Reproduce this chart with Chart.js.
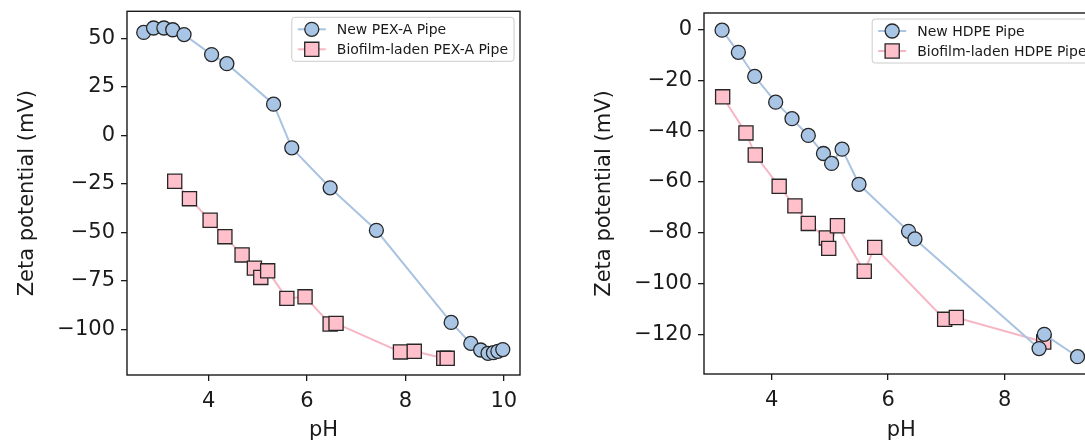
<!DOCTYPE html>
<html>
<head>
<meta charset="utf-8">
<script src="https://cdn.jsdelivr.net/npm/chart.js@4/dist/chart.umd.min.js"></script>
<style>
  html, body { margin: 0; padding: 0; background: #fff; overflow: hidden; width: 1085px; height: 443px; }
  canvas { position: absolute; top: 0; }
  #left { left: 0; }
  #right { left: 580px; }
</style>
</head>
<body>
<canvas id="left" width="560" height="443"></canvas>
<canvas id="right" width="540" height="443"></canvas>
<script>
// left panel: PEX-A
const pexNewPH = [2.68, 2.88, 3.09, 3.27, 3.50, 4.06, 4.37, 5.32, 5.69, 6.47, 7.41, 8.93, 9.33, 9.53, 9.68, 9.79, 9.88, 9.98];
const pexNewZeta = [53.1, 55.4, 55.4, 54.5, 52.0, 41.7, 37.0, 16.1, -6.4, -27.0, -48.9, -96.4, -107.2, -110.6, -112.3, -112.0, -111.3, -110.4];
const pexBioPH = [3.31, 3.61, 4.03, 4.33, 4.68, 4.93, 5.06, 5.20, 5.59, 5.96, 6.47, 6.59, 7.90, 8.18, 8.78, 8.85];
const pexBioZeta = [-23.6, -32.6, -43.7, -52.2, -61.6, -68.4, -73.2, -69.8, -84.0, -83.2, -97.2, -96.9, -111.6, -111.3, -114.9, -114.9];

// right panel: HDPE
const hdpeNewPH = [3.15, 3.43, 3.71, 4.07, 4.35, 4.63, 4.89, 5.03, 5.21, 5.50, 6.35, 6.46, 8.59, 8.68, 9.25];
const hdpeNewZeta = [-0.3, -9.0, -18.5, -28.6, -35.1, -41.7, -48.8, -52.7, -47.1, -60.9, -79.4, -82.4, -125.5, -119.9, -128.7];
const hdpeBioPH = [3.16, 3.56, 3.72, 4.13, 4.40, 4.63, 4.94, 4.98, 5.13, 5.59, 5.77, 6.97, 7.17, 8.67];
const hdpeBioZeta = [-26.5, -40.7, -49.4, -61.7, -69.4, -76.3, -82.0, -86.1, -77.2, -95.1, -85.7, -114.0, -113.3, -122.9];

const pexXTicks = [4, 6, 8, 10];
const pexYTicks = [50, 25, 0, -25, -50, -75, -100];
const hdpeXTicks = [4, 6, 8];
const hdpeYTicks = [0, -20, -40, -60, -80, -100, -120];

const FONT = '"DejaVu Sans", sans-serif';
const INK = "#1a1a1a";

const toPoints = (xs, ys) => xs.map((x, i) => ({ x: x, y: ys[i] }));
const fmt = v => (v < 0 ? "\u2212" + Math.abs(v) : String(v));

function newSet(label, xs, ys) {
    return {
        label: label,
        data: toPoints(xs, ys),
        showLine: true,
        borderColor: "#a9c3e1",
        borderWidth: 2,
        pointStyle: "circle",
        pointRadius: 7,
        pointBackgroundColor: "#a9c5e6",
        pointBorderColor: "#262626",
        pointBorderWidth: 1.3,
    };
}

function bioSet(label, xs, ys) {
    return {
        label: label,
        data: toPoints(xs, ys),
        showLine: true,
        borderColor: "#f6b6c4",
        borderWidth: 2,
        pointStyle: "rect",
        pointRadius: 10,
        pointBackgroundColor: "#ffc0cb",
        pointBorderColor: "#262626",
        pointBorderWidth: 1.3,
    };
}

// black frame round the plot area
const frame = {
    id: "frame",
    afterDatasetsDraw(chart) {
        const a = chart.chartArea, ctx = chart.ctx;
        ctx.save();
        ctx.strokeStyle = INK;
        ctx.lineWidth = 1.4;
        ctx.strokeRect(a.left, a.top, a.right - a.left, a.bottom - a.top);
        ctx.restore();
    }
};

// matplotlib-like legend box in the upper right corner
const boxLegend = {
    id: "boxLegend",
    afterDraw(chart, args, opts) {
        const ctx = chart.ctx, a = chart.chartArea;
        const sets = chart.data.datasets;
        ctx.save();
        ctx.font = "14px " + FONT;
        const textW = Math.max(...sets.map(d => ctx.measureText(d.label).width));
        const pad = 6, handle = 28, gap = 11, rowH = 20;
        const w = pad + handle + gap + textW + pad;
        const h = 12 + rowH * (sets.length - 1) + 12;
        const x0 = a.right - opts.inset - w;
        const y0 = a.top + opts.inset;
        ctx.fillStyle = "rgba(255,255,255,0.85)";
        ctx.strokeStyle = "#cccccc";
        ctx.lineWidth = 1;
        ctx.beginPath();
        ctx.roundRect(x0, y0, w, h, 3);
        ctx.fill();
        ctx.stroke();
        sets.forEach((d, i) => {
            const y = y0 + 12 + rowH * i;
            ctx.strokeStyle = d.borderColor;
            ctx.lineWidth = d.borderWidth;
            ctx.beginPath();
            ctx.moveTo(x0 + pad, y);
            ctx.lineTo(x0 + pad + handle, y);
            ctx.stroke();
            ctx.fillStyle = d.pointBackgroundColor;
            ctx.strokeStyle = d.pointBorderColor;
            ctx.lineWidth = d.pointBorderWidth;
            Chart.helpers.drawPoint(ctx, {
                pointStyle: d.pointStyle, rotation: 0,
                radius: d.pointRadius, borderWidth: d.pointBorderWidth
            }, x0 + pad + handle / 2, y);
            ctx.fillStyle = INK;
            ctx.textBaseline = "middle";
            ctx.textAlign = "left";
            ctx.fillText(d.label, x0 + pad + handle + gap, y + 1);
        });
        ctx.restore();
    }
};

function makeChart(id, sets, cfg) {
    return new Chart(document.getElementById(id), {
        type: "scatter",
        data: { datasets: sets },
        options: {
            responsive: false,
            animation: false,
            layout: { padding: { left: 0, right: cfg.padRight, top: cfg.padTop, bottom: 0 } },
            plugins: {
                legend: { display: false },
                tooltip: { enabled: false },
                boxLegend: { inset: 6 },
            },
            scales: {
                x: {
                    type: "linear",
                    min: cfg.xMin,
                    max: cfg.xMax,
                    afterBuildTicks: s => { s.ticks = cfg.xTicks.map(v => ({ value: v })); },
                    afterFit: s => { s.height = cfg.xAxisH; s.paddingLeft = 0; s.paddingRight = 0; },
                    grid: { drawOnChartArea: false, drawTicks: true, tickLength: 6, color: INK, lineWidth: 1.3 },
                    border: { display: false },
                    ticks: { color: INK, font: { family: FONT, size: 21 }, padding: 8, maxRotation: 0, callback: fmt },
                    title: { display: true, text: "pH", color: INK, font: { family: FONT, size: 21 }, padding: { top: 0, bottom: 0 } },
                },
                y: {
                    type: "linear",
                    min: cfg.yMin,
                    max: cfg.yMax,
                    afterBuildTicks: s => { s.ticks = cfg.yTicks.map(v => ({ value: v })); },
                    afterFit: s => { s.width = cfg.yAxisW; s.paddingTop = 0; s.paddingBottom = 0; },
                    grid: { drawOnChartArea: false, drawTicks: true, tickLength: 6, color: INK, lineWidth: 1.3 },
                    border: { display: false },
                    ticks: { color: INK, font: { family: FONT, size: 21 }, padding: 6, callback: fmt },
                    title: { display: true, text: "Zeta potential (mV)", color: INK, font: { family: FONT, size: 21 }, padding: { top: cfg.titlePad, bottom: 0 } },
                },
            },
        },
        plugins: [frame, boxLegend],
    });
}

makeChart("left", [
    newSet("New PEX-A Pipe", pexNewPH, pexNewZeta),
    bioSet("Biofilm-laden PEX-A Pipe", pexBioPH, pexBioZeta),
], {
    xMin: 2.34, xMax: 10.33, yMin: -123.5, yMax: 64,
    xTicks: pexXTicks, yTicks: pexYTicks,
    yAxisW: 127, xAxisH: 68, padRight: 40, padTop: 10, titlePad: 15,
});

makeChart("right", [
    newSet("New HDPE Pipe", hdpeNewPH, hdpeNewZeta),
    bioSet("Biofilm-laden HDPE Pipe", hdpeBioPH, hdpeBioZeta),
], {
    xMin: 2.84, xMax: 9.61, yMin: -135.5, yMax: 6.45,
    xTicks: hdpeXTicks, yTicks: hdpeYTicks,
    yAxisW: 124, xAxisH: 69, padRight: 21.5, padTop: 13, titlePad: 12,
});
</script>
</body>
</html>
